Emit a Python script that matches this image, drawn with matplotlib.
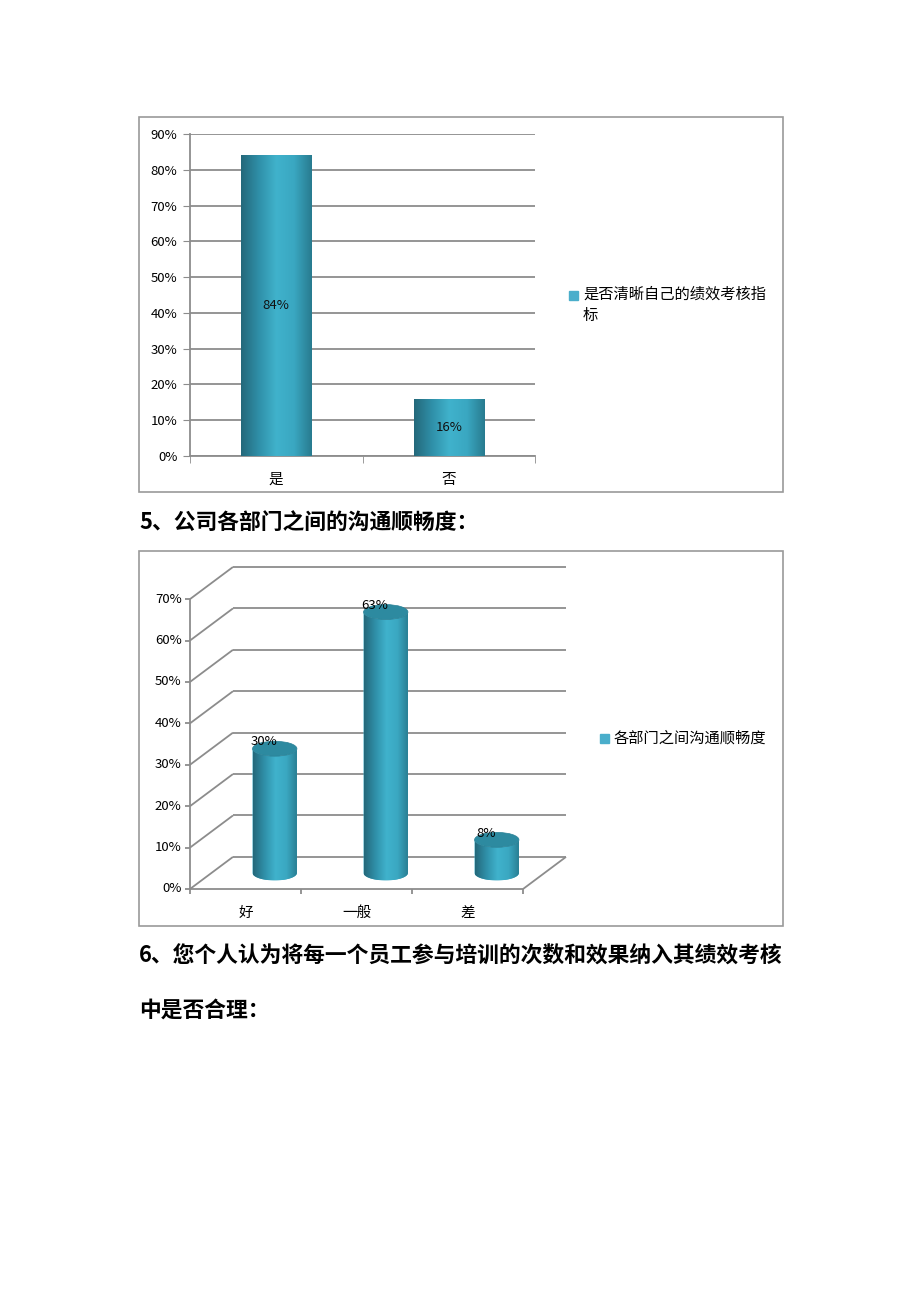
import numpy as np
import matplotlib
matplotlib.use('Agg')
import matplotlib.pyplot as plt
from matplotlib.patches import Rectangle, Ellipse, Polygon
from matplotlib.colors import LinearSegmentedColormap

plt.rcParams['font.family'] = ['Noto Sans CJK SC', 'DejaVu Sans']

# 数据
cats1 = ['是', '否']
vals1 = [0.84, 0.16]
labels1 = ['84%', '16%']
legend1 = '是否清晰自己的绩效考核指\n标'

cats2 = ['好', '一般', '差']
vals2 = [0.30, 0.63, 0.08]
labels2 = ['30%', '63%', '8%']
legend2 = '各部门之间沟通顺畅度'

heading5 = '5、公司各部门之间的沟通顺畅度：'
heading6a = '6、您个人认为将每一个员工参与培训的次数和效果纳入其绩效考核'
heading6b = '中是否合理：'

W, H = 920, 1302
fig = plt.figure(figsize=(W / 100, H / 100), dpi=100)

grid_c = '#8c8c8c'
bar_cmap = LinearSegmentedColormap.from_list(
    'bar', ['#24687a', '#2f8fa8', '#40b2cc', '#3aa7c1', '#287b8f'])


def fpos(x0, y0, x1, y1):
    # 像素框 -> figure 坐标
    return [x0 / W, 1 - y1 / H, (x1 - x0) / W, (y1 - y0) / H]


# 页面层：标题与边框
page = fig.add_axes([0, 0, 1, 1])
page.set_xlim(0, W)
page.set_ylim(H, 0)
page.axis('off')
for (x0, y0, x1, y1) in [(139, 117, 783, 492), (139, 551, 783, 926)]:
    page.add_patch(Rectangle((x0, y0), x1 - x0, y1 - y0, fill=False,
                             ec='#9a9a9a', lw=1.2))
hkw = dict(fontsize=15.7, fontweight='bold', va='center', ha='left')
page.text(139, 522, heading5, **hkw)
page.text(139, 956, heading6a, **hkw)
page.text(139, 1010, heading6b, **hkw)

# ---------- 图1：柱形图 ----------
ax1 = fig.add_axes(fpos(190, 134, 535, 456))
x1 = np.arange(len(cats1))
ax1.set_yticks(np.arange(0, 0.91, 0.1))
ax1.set_yticklabels([f'{int(round(v * 100))}%' for v in np.arange(0, 0.91, 0.1)])
ax1.yaxis.grid(True, color=grid_c, lw=1.3)
ax1.set_axisbelow(True)
bars = ax1.bar(x1, vals1, width=0.406, color='#3aa7c1', zorder=2)
grad = np.linspace(0, 1, 256).reshape(1, -1)
for b, lab in zip(bars, labels1):
    x0, y0 = b.get_x(), b.get_y()
    im = ax1.imshow(grad, cmap=bar_cmap, aspect='auto', zorder=3,
                    extent=[x0, x0 + b.get_width(), y0, y0 + b.get_height()])
    im.set_clip_path(b)
    ax1.text(x0 + b.get_width() / 2, y0 + b.get_height() / 2, lab,
             ha='center', va='center', fontsize=9.5, color='#111111', zorder=4)
ax1.set_xlim(-0.5, len(cats1) - 0.5)
ax1.set_ylim(0, 0.9)
ax1.set_xticks(x1)
ax1.set_xticklabels(cats1, fontsize=10.5)
ax1.set_xticks(np.arange(-0.5, len(cats1)), minor=True)
ax1.tick_params(axis='x', which='major', length=0, pad=12)
ax1.tick_params(axis='x', which='minor', length=5, color=grid_c)
ax1.tick_params(axis='y', length=5, color=grid_c, labelsize=9.5, pad=4)
for s in ['top', 'right']:
    ax1.spines[s].set_visible(False)
for s in ['left', 'bottom']:
    ax1.spines[s].set_color(grid_c)
    ax1.spines[s].set_linewidth(1.3)
page.add_patch(Rectangle((569, 291), 9, 9, color='#4aaecb'))
page.text(583, 305, legend1, fontsize=11, va='center', ha='left',
          linespacing=1.3)

# ---------- 图2：三维圆柱图 ----------
dx, dy = 0.387, 0.0775          # 纵深偏移（数据单位）
ymax = 0.7
ax2 = fig.add_axes(fpos(190, 567, 566, 889))
ax2.axis('off')
ticks2 = np.arange(0, ymax + 0.001, 0.1)
lkw = dict(color=grid_c, lw=1.3, clip_on=False, solid_capstyle='butt')
for v in ticks2:
    ax2.plot([dx, len(cats2) + dx], [v + dy, v + dy], **lkw)   # 背墙
    ax2.plot([0, dx], [v, v + dy], **lkw)                      # 侧墙
    ax2.plot([-0.045, 0], [v, v], **lkw)
    ax2.text(-0.075, v, f'{int(round(v * 100))}%', ha='right', va='center',
             fontsize=9.5)
ax2.plot([0, 0], [0, ymax], **lkw)
ax2.plot([0, len(cats2)], [0, 0], **lkw)
ax2.plot([len(cats2), len(cats2) + dx], [0, dy], **lkw)
for i in range(len(cats2) + 1):
    ax2.plot([i, i], [0, -0.013], **lkw)
for i, c in enumerate(cats2):
    ax2.text(i + 0.5, -0.057, c, ha='center', va='center', fontsize=10.5)

rx = 0.2        # 圆柱半径（类别单位）
ry = 0.018      # 椭圆纵向半轴
for i, (v, lab) in enumerate(zip(vals2, labels2)):
    cx = i + 0.5 + dx * 0.68
    base = dy * 0.5
    top = base + v
    t = np.linspace(np.pi, 2 * np.pi, 60)
    body = np.vstack([
        np.column_stack([cx + rx * np.cos(t), base + ry * np.sin(t)]),
        np.column_stack([cx + rx * np.cos(t[::-1]), top + ry * np.sin(t[::-1])]),
    ])
    poly = Polygon(body, closed=True, fc='#3aa7c1', ec='none', zorder=3)
    ax2.add_patch(poly)
    im = ax2.imshow(grad, cmap=bar_cmap, aspect='auto', zorder=4,
                    extent=[cx - rx, cx + rx, base - ry, top + ry])
    im.set_clip_path(poly)
    ax2.add_patch(Ellipse((cx, top), 2 * rx, 2 * ry, fc='#2d8aa0',
                          ec='#2a8196', lw=0.5, zorder=5))
    ax2.text(cx - 0.1, top + ry * 0.9, lab, ha='center', va='center',
             fontsize=9.5, zorder=6)
ax2.set_xlim(0, len(cats2) + dx)
ax2.set_ylim(0, ymax + dy)

page.add_patch(Rectangle((600, 734), 9, 9, color='#4aaecb'))
page.text(614, 738, legend2, fontsize=11, va='center', ha='left')

fig.savefig('out.png', dpi=100)
